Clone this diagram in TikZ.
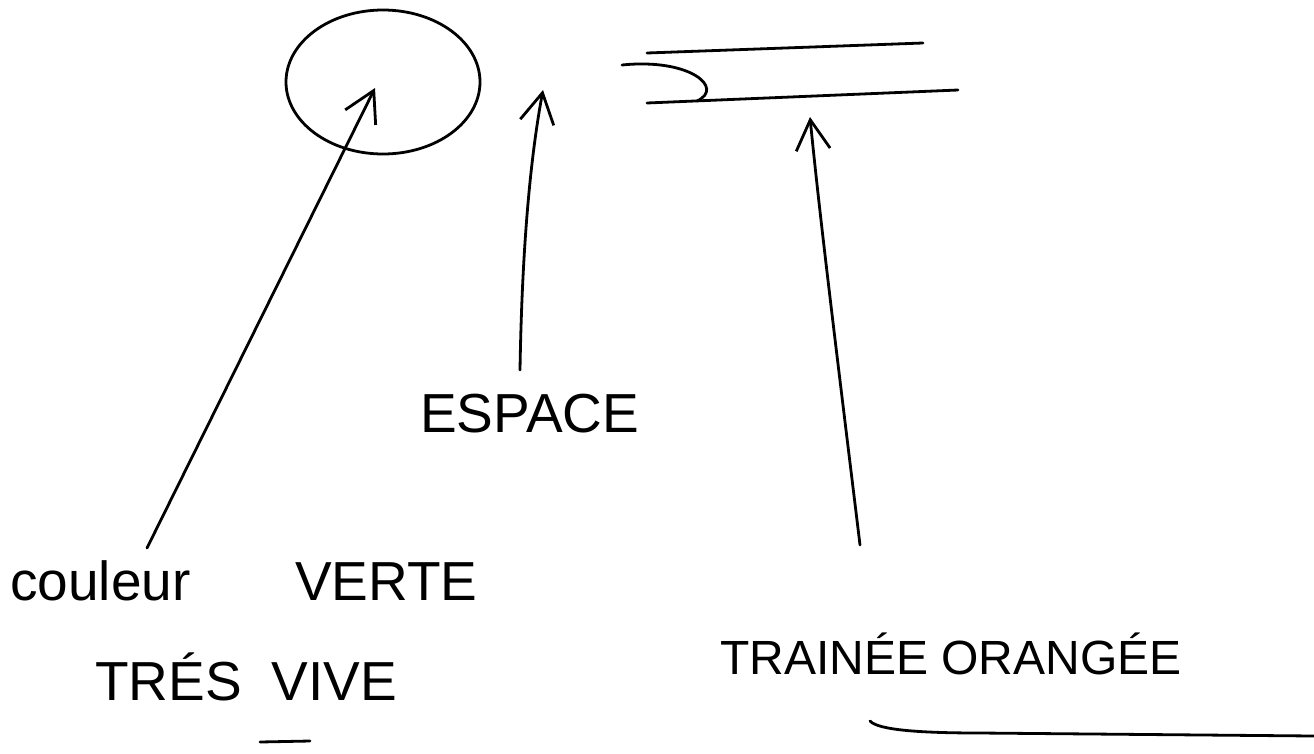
\documentclass[tikz,border=0pt]{standalone}
\usepackage{fontspec}
\setmainfont{Liberation Sans}
\usetikzlibrary{arrows.meta}
\begin{document}
\begin{tikzpicture}[x=1pt,y=-1pt,
  ink/.style={line width=2.8pt, line cap=round, line join=round},
  harrow/.style={ink,-{Straight Barb[length=30pt,width=34pt,line width=2.8pt]}},
  lbl/.style={inner sep=0pt, font=\fontsize{55}{60}\selectfont}]
\useasboundingbox (0,0) rectangle (1314,753);
% circle
\draw[ink] (383,82) ellipse [x radius=97pt, y radius=72pt];
% trail
\coordinate (l1a) at (647,53); \coordinate (l1b) at (923,43);
\coordinate (l2a) at (647,103); \coordinate (l2b) at (958,90);
\coordinate (h0) at (622,65); \coordinate (h1) at (697,101);
\draw[ink] (l1a) -- (l1b);
\draw[ink] (l2a) -- (l2b);
\draw[ink] (h0) .. controls (690,58) and (725,88) .. (h1);
% labels
\node[lbl, anchor=base west] (couleur) at (10,600) {couleur};
\node[lbl, anchor=base west] (verte) at (295,600) {VERTE};
\node[lbl, anchor=base west] (vive) at (95,700) {TRÉS\hspace{30pt}VIVE};
\node[lbl, anchor=base west] (espace) at (420,432) {ESPACE};
\node[lbl, anchor=base west, font=\fontsize{48}{52}\selectfont] (trainee) at (720,674) {TRAINÉE ORANGÉE};
% arrows
\coordinate (s1) at (147,548); \coordinate (t1) at (375,88);
\coordinate (s2) at (520,370); \coordinate (t2) at (543,90);
\coordinate (s3) at (860,545); \coordinate (t3) at (810,117);
\draw[harrow] (s1) -- (t1);
\draw[harrow] (s2) .. controls (522,250) and (530,160) .. (t2);
\draw[harrow] (s3) .. controls (840,380) and (820,220) .. (t3);
% underlines
\coordinate (u1a) at (260,742); \coordinate (u1b) at (310,741);
\draw[ink] (u1a) -- (u1b);
\coordinate (u2a) at (870,721); \coordinate (u2b) at (1314,736);
\draw[ink] (u2a) .. controls (878,730) and (920,733) .. (980,733) -- (u2b);
\end{tikzpicture}
\end{document}
